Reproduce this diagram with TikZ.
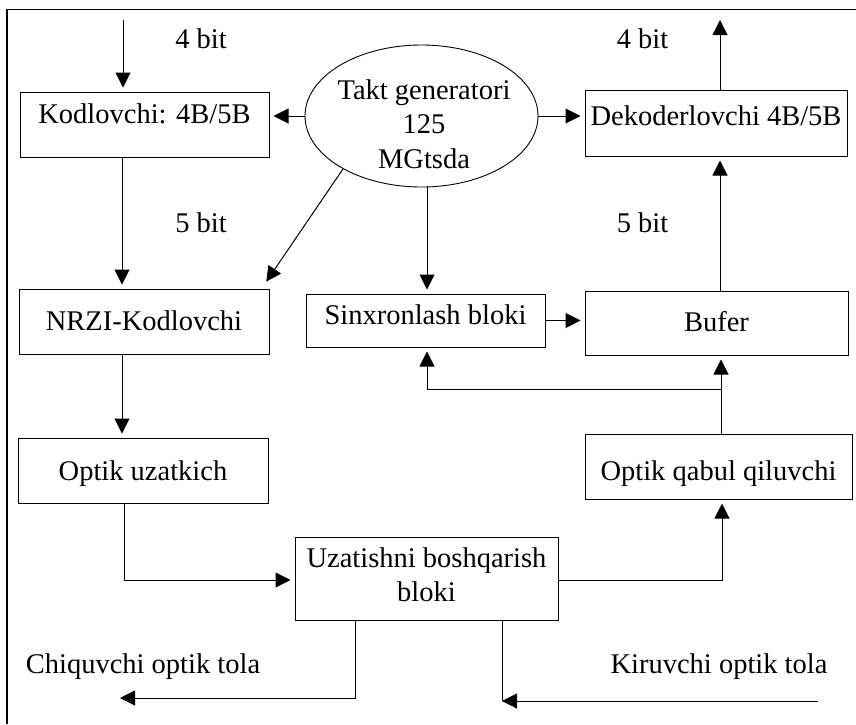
\documentclass[tikz,border=0pt]{standalone}
\usepackage{fontspec}
\setmainfont{Liberation Serif}
\usetikzlibrary{arrows.meta,shapes.geometric}
\newcommand{\tx}[2]{\raisebox{#1}[0pt][0pt]{\makebox[0pt][c]{#2}}}
\newcommand{\lines}[1]{\parbox[t]{320pt}{\centering #1}}
\begin{document}
\begin{tikzpicture}[x=1pt,y=-1pt,
  every node/.style={font=\fontsize{28.5}{34.5}\selectfont, inner sep=0pt},
  box/.style={draw, line width=1pt, rectangle},
  lbl/.style={anchor=base},
  arr/.style={line width=1pt, -{Triangle[length=15pt,width=15pt]}},
  ln/.style={line width=1pt},
  gap/.style={shorten >=4pt}]
\useasboundingbox (0,0) rectangle (856,724);
% frame
\draw[line width=1.4pt] (7,724) -- (7,9.5) -- (856,9.5);
% nodes
\node[box, minimum width=249pt, minimum height=65pt] (kod) at (144.5,124.5) {\tx{1.5pt}{Kodlovchi: 4B/5B}};
\node[box, minimum width=262pt, minimum height=66pt] (dek) at (716,123) {\tx{-2pt}{Dekoderlovchi 4B/5B}};
\node[box, minimum width=250pt, minimum height=65pt] (nrzi) at (144,321.5) {\tx{-8.5pt}{NRZI-Kodlovchi}};
\node[box, minimum width=239pt, minimum height=53pt] (sinx) at (425.5,320.5) {\tx{-3.5pt}{Sinxronlash bloki}};
\node[box, minimum width=263pt, minimum height=64pt] (bufer) at (716.5,323) {\tx{-8pt}{Bufer}};
\node[box, minimum width=250pt, minimum height=65pt] (uzat) at (143,470.5) {\tx{-9.5pt}{Optik uzatkich}};
\node[box, minimum width=267pt, minimum height=65pt] (qabul) at (718.5,466.5) {\tx{-13.5pt}{Optik qabul qiluvchi}};
\node[box, minimum width=263pt, minimum height=83pt] (boshq) at (426.5,578.5) {\tx{11.5pt}{\lines{Uzatishni boshqarish\\bloki}}};
\node[draw, line width=0.9pt, ellipse, minimum width=233pt, minimum height=142pt] (takt) at (421.5,116)
      {\tx{17pt}{\hspace{5pt}\lines{Takt generatori\\125\\MGtsda}}};
% labels
\node[lbl] (b4l) at (201,48) {4 bit};
\node[lbl] (b4r) at (642.5,48) {4 bit};
\node[lbl] (b5l) at (201,232) {5 bit};
\node[lbl] (b5r) at (642.5,232) {5 bit};
\node[lbl] (chiq) at (143,673) {Chiquvchi optik tola};
\node[lbl] (kir) at (719,673) {Kiruvchi optik tola};
% helper coordinates
\coordinate (in4) at (123,20);
\coordinate (out4) at (720,20);
\coordinate (lx) at (122,0);
\coordinate (sx) at (427,0);
\coordinate (qx) at (721,0);
\coordinate (br) at (721,389);
\coordinate (ux) at (124,580);
\coordinate (rx) at (722,580);
\coordinate (ox) at (355,698);
\coordinate (oend) at (120,698);
\coordinate (ix) at (502,701);
\coordinate (iend) at (818,701);
% connectors
\draw[arr,gap] (in4) -- (in4 |- kod.north);
\draw[arr,gap] (takt.west) -- (takt.west -| kod.east);
\draw[arr,gap] (takt.east) -- (takt.east -| dek.west);
\draw[arr] (out4 |- dek.north) -- (out4);
\draw[arr,gap] (lx |- kod.south) -- (lx |- nrzi.north);
\draw[arr,gap] (takt.214) -- (264,285);
\draw[arr,gap] (sx |- takt.south) -- (sx |- sinx.north);
\draw[arr,gap] (sinx.east) -- (sinx.east -| bufer.west);
\draw[arr,gap] (out4 |- bufer.north) -- (out4 |- dek.south);
\draw[arr,gap] (qx |- qabul.north) -- (qx |- bufer.south);
\draw[arr,gap] (br) -- (sx |- br) -- (sx |- sinx.south);
\draw[arr,gap] (lx |- nrzi.south) -- (lx |- uzat.north);
\draw[arr,gap] (ux |- uzat.south) -- (ux) -- (ux -| boshq.west);
\draw[arr,gap] (rx -| boshq.east) -- (rx) -- (rx |- qabul.south);
\draw[arr] (ox |- boshq.south) -- (ox) -- (oend);
\draw[ln] (ix |- boshq.south) -- (ix);
\draw[arr] (iend) -- (ix);
\end{tikzpicture}
\end{document}
